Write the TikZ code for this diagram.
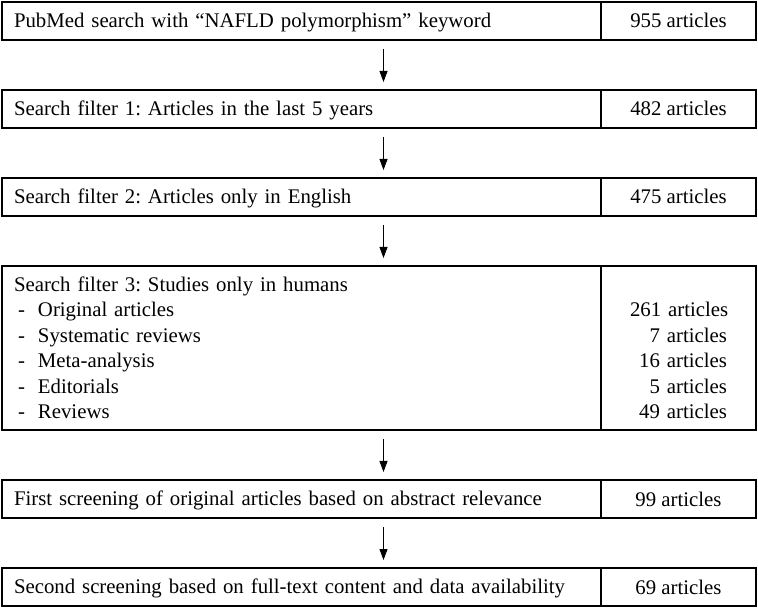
\documentclass[tikz,border=0pt]{standalone}
\usepackage{fontspec}
\setmainfont{Liberation Serif}
\usetikzlibrary{positioning,arrows.meta}
\newcommand{\cellstrut}{\rule[-3pt]{0pt}{20pt}}
\begin{document}
\begin{tikzpicture}
        \tikzset{cell/.style={draw,line width=1.3pt,outer sep=0pt,inner ysep=0pt,
                font=\fontsize{20.8}{25.4}\selectfont\frenchspacing,
                execute at begin node=\cellstrut,execute at end node=\cellstrut},
            stepcell/.style={cell,inner xsep=12pt,text width=575pt,align=left,minimum height=38pt},
            countcell/.style={cell,inner xsep=0pt,minimum width=155pt,minimum height=38pt,align=center},
            flow/.style={draw,line width=0.9pt,-{Triangle[length=11pt,width=8pt]},
                shorten <=9pt,shorten >=8pt}}
        \useasboundingbox (0,0) rectangle (758pt,-609pt);
        \node[stepcell,anchor=north west] (pubmed) at (2pt,-2pt)
            {PubMed search with “NAFLD polymorphism” keyword};
        \node[countcell,right=0pt of pubmed] (pubmedN) {955 articles};
        \node[stepcell,below=50pt of pubmed] (lastfive)
            {Search filter 1: Articles in the last 5 years};
        \node[countcell,right=0pt of lastfive] (lastfiveN) {482 articles};
        \node[stepcell,below=50pt of lastfive] (english)
            {Search filter 2: Articles only in English};
        \node[countcell,right=0pt of english] (englishN) {475 articles};
        \node[stepcell,minimum height=164pt,below=50pt of english] (humans)
            {Search filter 3: Studies only in humans\\
            \makebox[24pt][l]{\hspace{4pt}-}Original articles\\
            \makebox[24pt][l]{\hspace{4pt}-}Systematic reviews\\
            \makebox[24pt][l]{\hspace{4pt}-}Meta-analysis\\
            \makebox[24pt][l]{\hspace{4pt}-}Editorials\\
            \makebox[24pt][l]{\hspace{4pt}-}Reviews};
        \node[countcell,minimum height=164pt,text width=97pt,align=right,right=0pt of humans] (humansN)
            {\mbox{}\\
            \mbox{261 articles}\\
            \mbox{7 articles}\\
            \mbox{16 articles}\\
            \mbox{5 articles}\\
            \mbox{49 articles}};
        \node[stepcell,below=50pt of humans] (abstract)
            {First screening of original articles based on abstract relevance};
        \node[countcell,right=0pt of abstract] (abstractN) {99 articles};
        \node[stepcell,below=50pt of abstract] (fulltext)
            {Second screening based on full-text content and data availability};
        \node[countcell,right=0pt of fulltext] (fulltextN) {69 articles};
        \foreach \from/\to in {pubmed/lastfive,lastfive/english,english/humans,
                humans/abstract,abstract/fulltext}
            \draw[flow] ([xshift=82pt]\from.south) -- ([xshift=82pt]\to.north);
\end{tikzpicture}
\end{document}
